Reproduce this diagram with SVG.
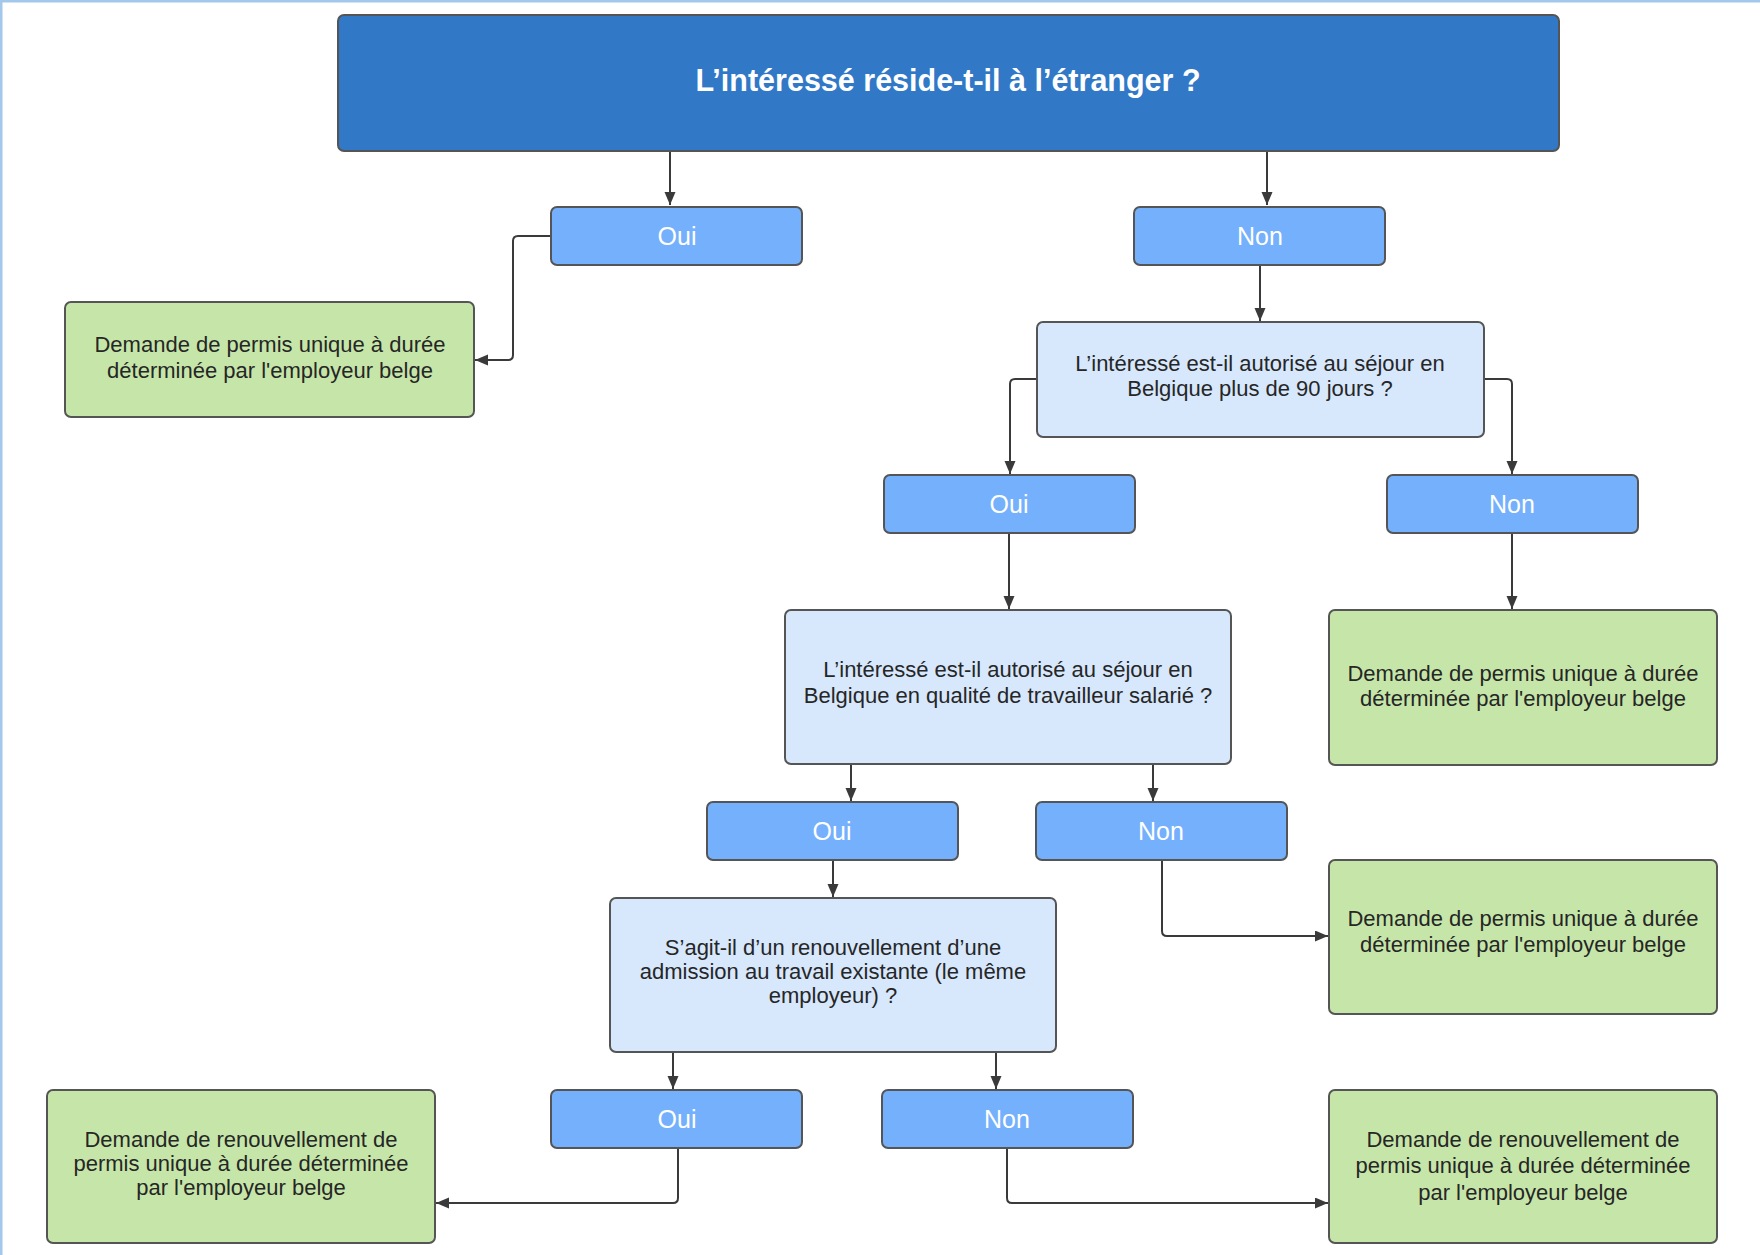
<svg xmlns="http://www.w3.org/2000/svg" width="1760" height="1255" viewBox="0 0 1760 1255">
<style>
.box{stroke:#555;stroke-width:2}
.title{fill:#3178c6}
.ans{fill:#74b0fb}
.q{fill:#d7e8fd}
.res{fill:#c6e6a9}
text{font-family:"Liberation Sans",Arial,sans-serif;text-anchor:middle}
.tt{font-size:30.5px;font-weight:bold;fill:#fff}
.at{font-size:25px;fill:#fff}
.bt{font-size:22px;fill:#262626}
.conn path{fill:none;stroke:#3a3a3a;stroke-width:2}
</style>
<defs>
<marker id="ah" markerUnits="userSpaceOnUse" markerWidth="14" markerHeight="12" refX="13" refY="5.5" orient="auto">
<path d="M0,0 L13,5.5 L0,11 z" fill="#3a3a3a"/>
</marker>
</defs>
<rect x="0" y="0" width="1760" height="1255" fill="#fff"/>
<line x1="1" y1="0" x2="1" y2="1255" stroke="#a4c8ec" stroke-width="3"/>
<line x1="0" y1="1" x2="1760" y2="1" stroke="#a4c8ec" stroke-width="3"/>

<g class="conn">
<path d="M670 152 V205" marker-end="url(#ah)"/>
<path d="M1267 152 V205" marker-end="url(#ah)"/>
<path d="M551 236 H518 Q513 236 513 241 V355 Q513 360 508 360 H475" marker-end="url(#ah)"/>
<path d="M1260 265 V321" marker-end="url(#ah)"/>
<path d="M1037 379 H1015 Q1010 379 1010 384 V474" marker-end="url(#ah)"/>
<path d="M1484 379 H1507 Q1512 379 1512 384 V474" marker-end="url(#ah)"/>
<path d="M1009 534 V609" marker-end="url(#ah)"/>
<path d="M1512 534 V609" marker-end="url(#ah)"/>
<path d="M851 765 V801" marker-end="url(#ah)"/>
<path d="M1153 765 V801" marker-end="url(#ah)"/>
<path d="M1162 861 V931 Q1162 936 1167 936 H1328" marker-end="url(#ah)"/>
<path d="M833 861 V897" marker-end="url(#ah)"/>
<path d="M673 1053 V1089" marker-end="url(#ah)"/>
<path d="M996 1053 V1089" marker-end="url(#ah)"/>
<path d="M678 1148 V1198 Q678 1203 673 1203 H436" marker-end="url(#ah)"/>
<path d="M1007 1148 V1198 Q1007 1203 1012 1203 H1328" marker-end="url(#ah)"/>
</g>

<g id="n-title">
<rect class="box title" x="338" y="15" width="1221" height="136" rx="6"/>
<text class="tt" x="948" y="91">L’intéressé réside-t-il à l’étranger ?</text>
</g>
<g id="n-oui1">
<rect class="box ans" x="551" y="207" width="251" height="58" rx="6"/>
<text class="at" x="677" y="245">Oui</text>
</g>
<g id="n-non1">
<rect class="box ans" x="1134" y="207" width="251" height="58" rx="6"/>
<text class="at" x="1260" y="245">Non</text>
</g>
<g id="n-res1">
<rect class="box res" x="65" y="302" width="409" height="115" rx="6"/>
<text class="bt" x="270" y="352">Demande de permis unique à durée</text>
<text class="bt" x="270" y="378">déterminée par l'employeur belge</text>
</g>
<g id="n-q2">
<rect class="box q" x="1037" y="322" width="447" height="115" rx="6"/>
<text class="bt" x="1260" y="371">L’intéressé est-il autorisé au séjour en</text>
<text class="bt" x="1260" y="396">Belgique plus de 90 jours ?</text>
</g>
<g id="n-oui2">
<rect class="box ans" x="884" y="475" width="251" height="58" rx="6"/>
<text class="at" x="1009" y="513">Oui</text>
</g>
<g id="n-non2">
<rect class="box ans" x="1387" y="475" width="251" height="58" rx="6"/>
<text class="at" x="1512" y="513">Non</text>
</g>
<g id="n-q3">
<rect class="box q" x="785" y="610" width="446" height="154" rx="6"/>
<text class="bt" x="1008" y="677">L’intéressé est-il autorisé au séjour en</text>
<text class="bt" x="1008" y="703">Belgique en qualité de travailleur salarié ?</text>
</g>
<g id="n-res2">
<rect class="box res" x="1329" y="610" width="388" height="155" rx="6"/>
<text class="bt" x="1523" y="681">Demande de permis unique à durée</text>
<text class="bt" x="1523" y="706">déterminée par l'employeur belge</text>
</g>
<g id="n-oui3">
<rect class="box ans" x="707" y="802" width="251" height="58" rx="6"/>
<text class="at" x="832" y="840">Oui</text>
</g>
<g id="n-non3">
<rect class="box ans" x="1036" y="802" width="251" height="58" rx="6"/>
<text class="at" x="1161" y="840">Non</text>
</g>
<g id="n-res3">
<rect class="box res" x="1329" y="860" width="388" height="154" rx="6"/>
<text class="bt" x="1523" y="926">Demande de permis unique à durée</text>
<text class="bt" x="1523" y="952">déterminée par l'employeur belge</text>
</g>
<g id="n-q4">
<rect class="box q" x="610" y="898" width="446" height="154" rx="6"/>
<text class="bt" x="833" y="955">S’agit-il d’un renouvellement d’une</text>
<text class="bt" x="833" y="979">admission au travail existante (le même</text>
<text class="bt" x="833" y="1003">employeur) ?</text>
</g>
<g id="n-oui4">
<rect class="box ans" x="551" y="1090" width="251" height="58" rx="6"/>
<text class="at" x="677" y="1128">Oui</text>
</g>
<g id="n-non4">
<rect class="box ans" x="882" y="1090" width="251" height="58" rx="6"/>
<text class="at" x="1007" y="1128">Non</text>
</g>
<g id="n-res4l">
<rect class="box res" x="47" y="1090" width="388" height="153" rx="6"/>
<text class="bt" x="241" y="1147">Demande de renouvellement de</text>
<text class="bt" x="241" y="1171">permis unique à durée déterminée</text>
<text class="bt" x="241" y="1195">par l'employeur belge</text>
</g>
<g id="n-res4r">
<rect class="box res" x="1329" y="1090" width="388" height="153" rx="6"/>
<text class="bt" x="1523" y="1147">Demande de renouvellement de</text>
<text class="bt" x="1523" y="1173">permis unique à durée déterminée</text>
<text class="bt" x="1523" y="1200">par l'employeur belge</text>
</g>
</svg>
